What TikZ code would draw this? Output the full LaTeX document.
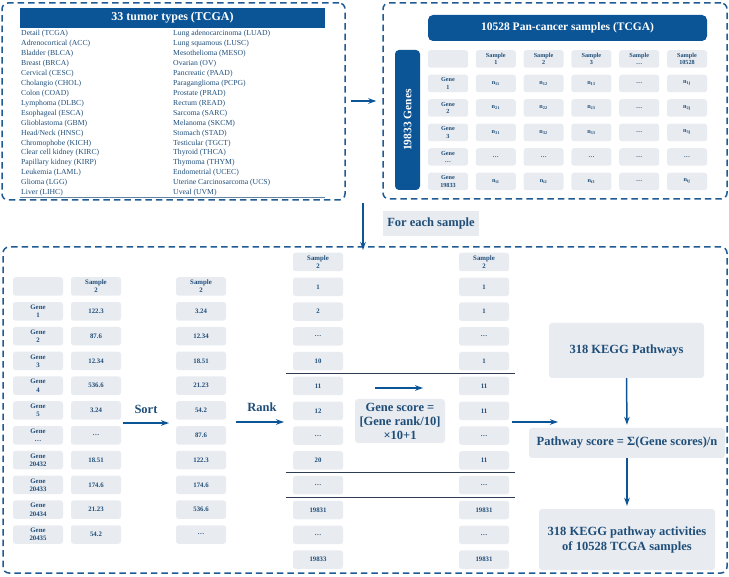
\documentclass[tikz,border=0pt]{standalone}
\usepackage{fontspec}
\setmainfont{Liberation Serif}
\usetikzlibrary{arrows.meta,calc}
\definecolor{navy}{HTML}{0B5496}
\definecolor{txt}{HTML}{1F4E79}
\definecolor{cellc}{HTML}{E8EBF0}
\definecolor{dashc}{HTML}{1F5A92}
\definecolor{rulec}{HTML}{2E3C54}
\begin{document}
\begin{tikzpicture}[x=1pt,y=-1pt,
  dbox/.style={draw=dashc,line width=1.5pt,dash pattern=on 6.5pt off 4pt,rounded corners=6pt,inner sep=0pt},
  cell/.style={fill=cellc,rounded corners=2.5pt,minimum width=40pt,minimum height=17.5pt,inner sep=0pt,
    font=\fontsize{6.2}{7.6}\selectfont\bfseries,text=txt,align=center},
  bcell/.style={cell,minimum width=50pt,minimum height=18.5pt,font=\fontsize{6.8}{8.2}\selectfont\bfseries},
  banner/.style={fill=navy,text=white,inner sep=0pt},
  lst/.style={anchor=west,inner sep=0pt,text=txt,font=\fontsize{7.7}{9}\selectfont},
  lbl/.style={text=txt,font=\fontsize{12.5}{15}\selectfont\bfseries,align=center,inner sep=0pt},
  gbox/.style={fill=cellc,rounded corners=3pt},
  flow/.style={draw=navy,line width=1.5pt,-{Stealth[length=8pt,width=5.5pt,inset=2.5pt]}},
  rulel/.style={draw=rulec,line width=1pt},
]
\useasboundingbox (0,0) rectangle (729,577);

% ---------- dashed containers ----------
\node[dbox,minimum width=343pt,minimum height=197pt] (tl) at (173.5,101.5) {};
\node[dbox,minimum width=344pt,minimum height=196pt] (tr) at (555,101) {};
\node[dbox,minimum width=724pt,minimum height=326pt] (bot) at (365,410) {};

% ---------- top-left: tumor types ----------
\node[banner,minimum width=305pt,minimum height=20pt,font=\fontsize{12}{14}\selectfont\bfseries] (b1) at (172.5,18) {33 tumor types (TCGA)};
\foreach \t [count=\i from 0] in {Detail (TCGA),Adrenocortical (ACC),Bladder (BLCA),Breast (BRCA),Cervical (CESC),Cholangio (CHOL),Colon (COAD),Lymphoma (DLBC),Esophageal (ESCA),Glioblastoma (GBM),Head/Neck (HNSC),Chromophobe (KICH),Clear cell kidney (KIRC),Papillary kidney (KIRP),Leukemia (LAML),Glioma (LGG),Liver (LIHC)}
  \node[lst] (la\i) at (21,34+9.93*\i) {\t};
\foreach \t [count=\i from 0] in {Lung adenocarcinoma (LUAD),Lung squamous (LUSC),Mesothelioma (MESO),Ovarian (OV),Pancreatic (PAAD),Paraganglioma (PCPG),Prostate (PRAD),Rectum (READ),Sarcoma (SARC),Melanoma (SKCM),Stomach (STAD),Testicular (TGCT),Thyroid (THCA),Thymoma (THYM),Endometrial (UCEC),Uterine Carcinosarcoma (UCS),Uveal (UVM)}
  \node[lst] (lb\i) at (173,34+9.93*\i) {\t};
\draw[draw=txt!70,line width=0.6pt] (20,197.5) -- (325,197.5);

% ---------- top-right: pan-cancer matrix ----------
\node[banner,rounded corners=5pt,minimum width=279pt,minimum height=26pt,font=\fontsize{11.5}{14}\selectfont\bfseries] (b2) at (567.5,28) {10528 Pan-cancer samples (TCGA)};
\node[banner,rounded corners=4pt,minimum width=25pt,minimum height=140pt] (vb) at (407.5,120) {};
\node[rotate=90,text=white,inner sep=0pt,font=\fontsize{11.5}{14}\selectfont\bfseries] (vbt) at (vb.center) {19833 Genes};

\foreach \t [count=\c from 0] in {{},{Sample\\1},{Sample\\2},{Sample\\3},{Sample\\\dots},{Sample\\10528}}
  \node[cell] (h\c) at (448+47.8*\c,59) {\t};
\foreach \t [count=\r from 1] in {{Gene\\1},{Gene\\2},{Gene\\3},{Gene\\\dots},{Gene\\19833}}
  \node[cell] (g\r) at (448,59+24.5*\r) {\t};
\foreach \a/\b/\c/\d [count=\r from 1] in {11/12/13/1j,21/22/23/2j,31/32/33/3j,{\dots}/{\dots}/{\dots}/{\dots},i1/i2/i3/ij}{
  \ifnum\r=4
    \foreach \c in {1,...,5} \node[cell] (m\r-\c) at (448+47.8*\c,59+24.5*\r) {\dots};
  \else
    \node[cell] (m\r-1) at (495.8,59+24.5*\r) {n\textsubscript{\a}};
    \node[cell] (m\r-2) at (543.6,59+24.5*\r) {n\textsubscript{\b}};
    \node[cell] (m\r-3) at (591.4,59+24.5*\r) {n\textsubscript{\c}};
    \node[cell] (m\r-4) at (639.2,59+24.5*\r) {\dots};
    \node[cell] (m\r-5) at (687,59+24.5*\r) {n\textsubscript{\d}};
  \fi
}

% ---------- connectors between top boxes ----------
\draw[flow,shorten <=5pt,shorten >=6pt] (tl.east |- 0,101) -- (tr.west |- 0,101);
\coordinate (dtop) at (363,203);
\coordinate (dbot) at (363,250);
\draw[flow] (dtop) -- (dbot);
\node[fill=cellc,lbl,minimum width=96pt,minimum height=25pt] (fes) at (431,223.5) {For each sample};

% ---------- bottom: per-sample pipeline ----------
\foreach \t [count=\i from 0] in {{},{Gene\\1},{Gene\\2},{Gene\\3},{Gene\\4},{Gene\\5},{Gene\\\dots},{Gene\\20432},{Gene\\20433},{Gene\\20434},{Gene\\20435}}
  \node[bcell] (bg\i) at (38,286.5+24.8*\i) {\t};
\foreach \t [count=\i from 0] in {{Sample\\2},122.3,87.6,12.34,536.6,3.24,{\dots},18.51,174.6,21.23,54.2}
  \node[bcell] (bv\i) at (96,286.5+24.8*\i) {\t};
\foreach \t [count=\i from 0] in {{Sample\\2},3.24,12.34,18.51,21.23,54.2,87.6,122.3,174.6,536.6,{\dots}}
  \node[bcell] (bs\i) at (201,286.5+24.8*\i) {\t};
\foreach \t [count=\i from 0] in {{Sample\\2},1,2,{\dots},10,11,12,{\dots},20,{\dots},19831,{\dots},19833}
  \node[bcell] (rk\i) at (318,262+24.8*\i) {\t};
\foreach \t [count=\i from 0] in {{Sample\\2},1,1,{\dots},1,11,11,{\dots},11,{\dots},19831,{\dots},19831}
  \node[bcell] (sc\i) at (484,262+24.8*\i) {\t};

\draw[rulel] (286,373.6) -- (515,373.6);
\draw[rulel] (286,472.8) -- (515,472.8);
\draw[rulel] (286,497.6) -- (515,497.6);

\node[lbl] (sortl) at (146,409) {Sort};
\coordinate (sa) at (123,423);
\coordinate (sb) at (169,423);
\draw[flow] (sa) -- (sb);

\node[lbl] (rankl) at (262,407) {Rank};
\coordinate (ra) at (236,422);
\coordinate (rb) at (284,422);
\draw[flow] (ra) -- (rb);

\coordinate (ma) at (375,388);
\coordinate (mb) at (423,388);
\draw[flow] (ma) -- (mb);

\node[gbox,lbl,minimum width=90pt,minimum height=44pt,font=\fontsize{12.5}{14}\selectfont\bfseries] (gs) at (400,421) {Gene score =\\{[}Gene rank/10{]}\\×10+1};

\node[gbox,lbl,minimum width=155pt,minimum height=55pt] (kegg) at (626.5,350.5) {318 KEGG Pathways};
\node[gbox,lbl,minimum width=196pt,minimum height=30pt] (pw) at (627,443) {Pathway score = Σ(Gene scores)/n};
\node[gbox,lbl,minimum width=176pt,minimum height=61pt] (fin) at (627,539.5) {318 KEGG pathway activities\\of 10528 TCGA samples};

\coordinate (pa) at (512,422);
\coordinate (pb) at (558,422);
\draw[flow] (pa) -- (pb);
\draw[flow,shorten >=3pt] (kegg.south) -- (pw.north);
\draw[flow,shorten >=3pt] (pw.south) -- (fin.north);
\end{tikzpicture}
\end{document}
